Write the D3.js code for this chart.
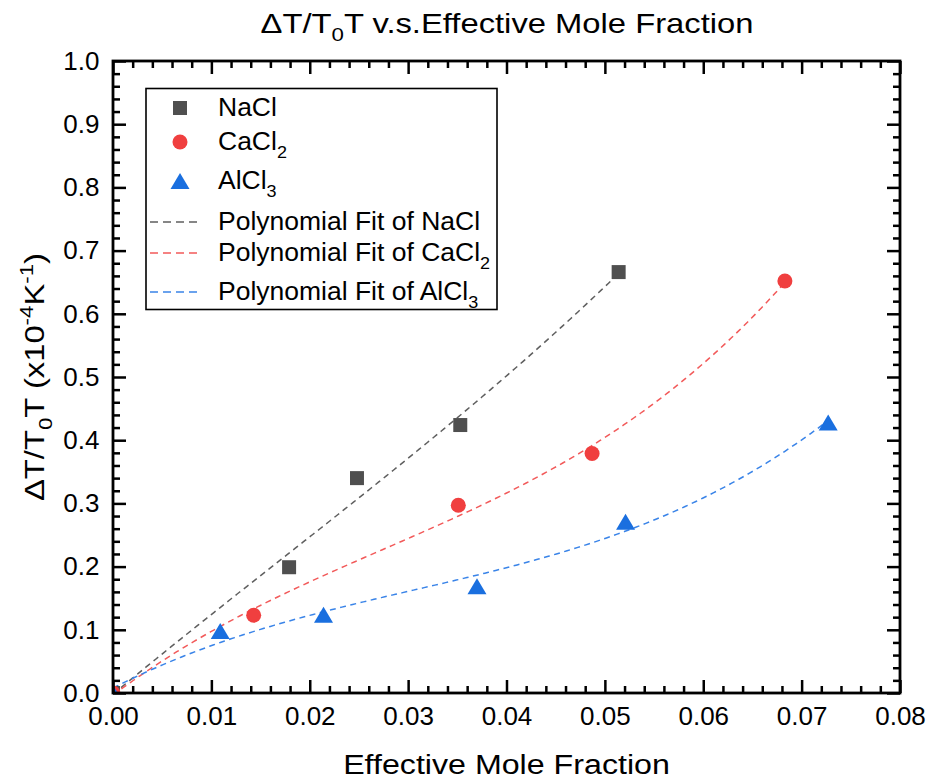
<!DOCTYPE html>
<html>
<head>
<meta charset="utf-8">
<script src="https://cdn.jsdelivr.net/npm/d3@7"></script>
<style>
  body { margin: 0; background: #fff; }
  svg { display: block; }
  text { font-family: "Liberation Sans", Arial, sans-serif; fill: #000; }
</style>
</head>
<body>
<svg id="chart" width="926" height="782"></svg>
<script>
// Measured data: ΔT/T0T (x10^-4 K^-1) against effective mole fraction
const naclX  = [0, 0.0179, 0.0248, 0.0353, 0.0514];
const naclY  = [0, 0.199, 0.340, 0.424, 0.666];
const cacl2X = [0, 0.0143, 0.0351, 0.0487, 0.0683];
const cacl2Y = [0, 0.123, 0.297, 0.379, 0.652];
const alcl3X = [0, 0.0109, 0.0214, 0.0370, 0.0521, 0.0727];
const alcl3Y = [0, 0.098, 0.124, 0.169, 0.271, 0.428];

const xTicks = [0, 0.01, 0.02, 0.03, 0.04, 0.05, 0.06, 0.07, 0.08];
const xTickLabels = ["0.00", "0.01", "0.02", "0.03", "0.04", "0.05", "0.06", "0.07", "0.08"];
const yTicks = [0, 0.1, 0.2, 0.3, 0.4, 0.5, 0.6, 0.7, 0.8, 0.9, 1.0];
const yTickLabels = ["0.0", "0.1", "0.2", "0.3", "0.4", "0.5", "0.6", "0.7", "0.8", "0.9", "1.0"];
const fitDegree = 3;

const svg = d3.select("#chart");
const plot = { left: 113, right: 900, top: 61, bottom: 693 };

const x = d3.scaleLinear().domain([0, 0.08]).range([plot.left, plot.right]);
const y = d3.scaleLinear().domain([0, 1.0]).range([plot.bottom, plot.top]);

// Least-squares polynomial (x rescaled by 100 for conditioning)
function polyfit(xs, ys, deg) {
  const n = deg + 1;
  const A = Array.from({ length: n }, () => new Array(n + 1).fill(0));
  xs.forEach((xv, i) => {
    const u = xv * 100;
    for (let r = 0; r < n; r++) {
      for (let c = 0; c < n; c++) A[r][c] += Math.pow(u, r + c);
      A[r][n] += ys[i] * Math.pow(u, r);
    }
  });
  for (let i = 0; i < n; i++) {
    let p = i;
    for (let k = i + 1; k < n; k++) if (Math.abs(A[k][i]) > Math.abs(A[p][i])) p = k;
    [A[i], A[p]] = [A[p], A[i]];
    for (let k = i + 1; k < n; k++) {
      const f = A[k][i] / A[i][i];
      for (let c = i; c <= n; c++) A[k][c] -= f * A[i][c];
    }
  }
  const coef = new Array(n).fill(0);
  for (let i = n - 1; i >= 0; i--) {
    let s = A[i][n];
    for (let c = i + 1; c < n; c++) s -= A[i][c] * coef[c];
    coef[i] = s / A[i][i];
  }
  return xv => coef.reduce((acc, a, k) => acc + a * Math.pow(xv * 100, k), 0);
}

const series = [
  { xs: naclX,  ys: naclY,  marker: "square",   fill: "#4f4f4f", line: "#5f5f5f" },
  { xs: cacl2X, ys: cacl2Y, marker: "circle",   fill: "#f03f3f", line: "#f25a5a" },
  { xs: alcl3X, ys: alcl3Y, marker: "triangle", fill: "#1a6fdf", line: "#3a84e8" }
];

function markerPath(kind) {
  if (kind === "square") return "M-7,-7H7V7H-7Z";
  if (kind === "circle") return d3.symbol(d3.symbolCircle, Math.PI * 7.5 * 7.5)();
  return "M0,-8L9.5,8L-9.5,8Z";
}

// Clip region for the plot area
svg.append("defs").append("clipPath").attr("id", "plotClip")
  .append("rect")
  .attr("x", plot.left).attr("y", plot.top)
  .attr("width", plot.right - plot.left).attr("height", plot.bottom - plot.top);

const inner = svg.append("g").attr("clip-path", "url(#plotClip)");

// Fit curves
series.forEach(s => {
  const f = polyfit(s.xs, s.ys, fitDegree);
  const xmax = d3.max(s.xs);
  const pts = d3.range(0, 201).map(i => {
    const xv = xmax * i / 200;
    return [xv, f(xv)];
  });
  inner.append("path")
    .datum(pts)
    .attr("fill", "none")
    .attr("stroke", s.line)
    .attr("stroke-width", 1.5)
    .attr("stroke-dasharray", "6,4.5")
    .attr("d", d3.line().x(d => x(d[0])).y(d => y(d[1])));
});

// Data markers
series.forEach(s => {
  inner.append("g").selectAll("path")
    .data(s.xs.map((xv, i) => [xv, s.ys[i]]))
    .join("path")
    .attr("transform", d => `translate(${x(d[0])},${y(d[1])})`)
    .attr("d", markerPath(s.marker))
    .attr("fill", s.fill);
});

// Axes with inward ticks
function minorValues(majors, step) {
  const out = [];
  for (let i = 0; i < majors.length - 1; i++)
    for (let k = 1; k < 5; k++) out.push(majors[i] + (majors[i + 1] - majors[i]) * k / 5);
  return out;
}
const xMinor = minorValues(xTicks);
const yMinor = minorValues(yTicks);

function styleAxis(g) {
  g.select(".domain").remove();
  g.selectAll(".tick line").attr("stroke", "#000").attr("stroke-width", 2.5);
  g.selectAll("text").attr("font-size", 26).attr("fill", "#000")
    .style("font-family", "'Liberation Sans', Arial, sans-serif");
}

// bottom
svg.append("g").attr("transform", `translate(0,${plot.bottom})`)
  .call(d3.axisBottom(x).tickValues(xTicks).tickFormat((d, i) => xTickLabels[i])
    .tickSizeInner(-13).tickSizeOuter(0).tickPadding(14))
  .call(styleAxis);
svg.append("g").attr("transform", `translate(0,${plot.bottom})`)
  .call(d3.axisBottom(x).tickValues(xMinor).tickFormat("").tickSizeInner(-7).tickSizeOuter(0))
  .call(styleAxis);
// top
svg.append("g").attr("transform", `translate(0,${plot.top})`)
  .call(d3.axisTop(x).tickValues(xTicks).tickFormat("").tickSizeInner(-13).tickSizeOuter(0))
  .call(styleAxis);
svg.append("g").attr("transform", `translate(0,${plot.top})`)
  .call(d3.axisTop(x).tickValues(xMinor).tickFormat("").tickSizeInner(-7).tickSizeOuter(0))
  .call(styleAxis);
// left
svg.append("g").attr("transform", `translate(${plot.left},0)`)
  .call(d3.axisLeft(y).tickValues(yTicks).tickFormat((d, i) => yTickLabels[i])
    .tickSizeInner(-13).tickSizeOuter(0).tickPadding(13.5))
  .call(styleAxis);
svg.append("g").attr("transform", `translate(${plot.left},0)`)
  .call(d3.axisLeft(y).tickValues(yMinor).tickFormat("").tickSizeInner(-7).tickSizeOuter(0))
  .call(styleAxis);
// right
svg.append("g").attr("transform", `translate(${plot.right},0)`)
  .call(d3.axisRight(y).tickValues(yTicks).tickFormat("").tickSizeInner(-13).tickSizeOuter(0))
  .call(styleAxis);
svg.append("g").attr("transform", `translate(${plot.right},0)`)
  .call(d3.axisRight(y).tickValues(yMinor).tickFormat("").tickSizeInner(-7).tickSizeOuter(0))
  .call(styleAxis);

// frame
svg.append("rect")
  .attr("x", plot.left).attr("y", plot.top)
  .attr("width", plot.right - plot.left).attr("height", plot.bottom - plot.top)
  .attr("fill", "none").attr("stroke", "#000").attr("stroke-width", 2.8);

// Rich text helper: parts with optional sub / sup
function richText(parent, parts, size, anchor) {
  const t = parent.append("text").attr("font-size", size).attr("text-anchor", anchor || "start");
  let shift = 0;
  parts.forEach(p => {
    const target = p.sub ? size * 0.3 : p.sup ? -size * 0.4 : 0;
    t.append("tspan")
      .attr("dy", target - shift)
      .attr("font-size", p.sub || p.sup ? size * 0.68 : size)
      .text(p.t);
    shift = target;
  });
  return t;
}

// Title
const titleG = svg.append("g").attr("transform", "translate(507,33) scale(1.17,1)");
richText(titleG, [{ t: "ΔT/T" }, { t: "0", sub: true }, { t: "T v.s.Effective Mole Fraction" }], 28, "middle");

// X label
const xlabG = svg.append("g").attr("transform", "translate(506.5,774) scale(1.15,1)");
richText(xlabG, [{ t: "Effective Mole Fraction" }], 28, "middle");

// Y label
const ylabG = svg.append("g").attr("transform", "translate(44,377) rotate(-90) scale(1.17,1)");
richText(ylabG, [
  { t: "ΔT/T" }, { t: "0", sub: true }, { t: "T (x10" }, { t: "-4", sup: true },
  { t: "K" }, { t: "-1", sup: true }, { t: ")" }
], 28, "middle");

// Legend
const legend = svg.append("g");
legend.append("rect")
  .attr("x", 146).attr("y", 88.5).attr("width", 351).attr("height", 221)
  .attr("fill", "#fff").attr("stroke", "#000").attr("stroke-width", 1.6);

const legendRows = [
  { kind: "marker", s: series[0], cy: 108, parts: [{ t: "NaCl" }] },
  { kind: "marker", s: series[1], cy: 142, parts: [{ t: "CaCl" }, { t: "2", sub: true }] },
  { kind: "marker", s: series[2], cy: 181, parts: [{ t: "AlCl" }, { t: "3", sub: true }] },
  { kind: "line", s: series[0], cy: 222, parts: [{ t: "Polynomial Fit of NaCl" }] },
  { kind: "line", s: series[1], cy: 253, parts: [{ t: "Polynomial Fit of CaCl" }, { t: "2", sub: true }] },
  { kind: "line", s: series[2], cy: 292, parts: [{ t: "Polynomial Fit of AlCl" }, { t: "3", sub: true }] }
];
legendRows.forEach(r => {
  if (r.kind === "marker") {
    legend.append("path")
      .attr("transform", `translate(180,${r.cy})`)
      .attr("d", markerPath(r.s.marker))
      .attr("fill", r.s.fill);
  } else {
    legend.append("line")
      .attr("x1", 150).attr("x2", 202).attr("y1", r.cy).attr("y2", r.cy)
      .attr("stroke", r.s.line).attr("stroke-width", 1.5)
      .attr("stroke-dasharray", "8,5");
  }
  const g = legend.append("g").attr("transform", `translate(218,${r.cy + 8}) scale(1.06,1)`);
  richText(g, r.parts, 25, "start");
});
</script>
</body>
</html>
